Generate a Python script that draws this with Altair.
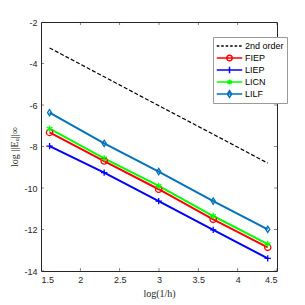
import altair as alt
import pandas as pd

log_inv_h = [1.609, 2.303, 2.996, 3.689, 4.382]
series_names = ["2nd order", "FIEP", "LIEP", "LICN", "LILF"]
order2 = [-3.25, -4.64, -6.03, -7.41, -8.80]
fiep = [-7.32, -8.70, -10.06, -11.51, -12.86]
liep = [-7.98, -9.26, -10.63, -12.02, -13.39]
licn = [-7.14, -8.57, -9.90, -11.35, -12.70]
lilf = [-6.37, -7.85, -9.21, -10.63, -11.99]
colors = ["#000000", "#ff0000", "#0000ff", "#00ff00", "#0072bd"]
x_ticks = [1.5, 2, 2.5, 3, 3.5, 4, 4.5]
y_ticks = [-14, -12, -10, -8, -6, -4, -2]

rows = []
for name, vals in zip(series_names, [order2, fiep, liep, licn, lilf]):
    for xv, yv in zip(log_inv_h, vals):
        rows.append({"x": xv, "y": yv, "series": name})
df = pd.DataFrame(rows)

tick_rows = []
for t in x_ticks:
    tick_rows.append({"x": t, "y": -14, "o": "v"})
    tick_rows.append({"x": t, "y": -2, "o": "v"})
for t in y_ticks:
    tick_rows.append({"x": 1.5, "y": t, "o": "h"})
    tick_rows.append({"x": 4.5, "y": t, "o": "h"})
ticks_df = pd.DataFrame(tick_rows)

xs = alt.Scale(domain=[1.5, 4.5], nice=False, zero=False)
ys = alt.Scale(domain=[-14, -2], nice=False, zero=False)
cs = alt.Scale(domain=series_names, range=colors)

axis_common = dict(ticks=False, grid=False, domain=False, labelFont="Liberation Sans",
                   labelFontSize=9, labelColor="#262626", titleFont="Liberation Serif",
                   titleFontSize=10, titleFontWeight="normal", titleColor="#262626",
                   labelExpr="'' + datum.value", labelPadding=4)
xenc = alt.X("x:Q", scale=xs, axis=alt.Axis(values=x_ticks, title="log(1/h)", titlePadding=4, **axis_common))
yenc = alt.Y("y:Q", scale=ys, axis=alt.Axis(values=y_ticks, title="log ||Eᵤ||∞", titlePadding=4, **axis_common))
cenc_none = alt.Color("series:N", scale=cs, legend=None)

base = alt.Chart(df)

dashed = base.transform_filter(alt.datum.series == "2nd order").mark_line(
    strokeWidth=1.2, strokeDash=[4, 2]).encode(x=xenc, y=yenc, color=cenc_none)
lines = base.transform_filter(alt.datum.series != "2nd order").mark_line(
    strokeWidth=2).encode(x=xenc, y=yenc, color=cenc_none)

marker_shapes = {
    "FIEP": "circle",
    "LIEP": "M-1,0H1M0,-1V1",
    "LICN": "M0,-1V1M-0.87,-0.5L0.87,0.5M-0.87,0.5L0.87,-0.5",
    "LILF": "M0,-1L0.65,0L0,1L-0.65,0Z",
}
point_layers = []
for name, shp in marker_shapes.items():
    point_layers.append(
        base.transform_filter(alt.datum.series == name).mark_point(
            shape=shp, filled=False, size=40, strokeWidth=1.3, opacity=1
        ).encode(x=xenc, y=yenc, color=cenc_none)
    )

legend_paths = [
    "M-1,0H-0.8M-0.65,0H-0.45M-0.3,0H-0.1M0.05,0H0.25M0.4,0H0.6M0.75,0H0.95",
    "M-1,0H1M-0.22,0A0.22,0.22 0 1 1 0.22,0A0.22,0.22 0 1 1 -0.22,0",
    "M-1,0H1M0,-0.25V0.25",
    "M-1,0H1M0,-0.2V0.2M-0.17,-0.1L0.17,0.1M-0.17,0.1L0.17,-0.1",
    "M-1,0H1M0,-0.26L0.17,0L0,0.26L-0.17,0Z",
]
leg = dict(title=None, orient="none", legendX=172, legendY=15, symbolSize=650,
           symbolOpacity=1, symbolStrokeWidth=1.5, labelFont="Liberation Sans",
           labelFontSize=9, labelColor="#000000", strokeColor="#999999",
           fillColor="#ffffff", padding=3, clipHeight=12, labelOffset=2, rowPadding=0)
legend_layer = base.mark_point(opacity=0, filled=False).encode(
    x=xenc, y=yenc,
    color=alt.Color("series:N", scale=cs, legend=alt.Legend(**leg)),
    shape=alt.Shape("series:N", scale=alt.Scale(domain=series_names, range=legend_paths),
                    legend=alt.Legend(**leg)),
)

tick_v = alt.Chart(ticks_df).transform_filter(alt.datum.o == "v").mark_tick(
    clip=True, size=6, thickness=0.8, color="#262626", orient="vertical").encode(x=xenc, y=yenc)
tick_h = alt.Chart(ticks_df).transform_filter(alt.datum.o == "h").mark_tick(
    clip=True, size=6, thickness=0.8, color="#262626", orient="horizontal").encode(x=xenc, y=yenc)

chart = alt.layer(dashed, lines, *point_layers, tick_v, tick_h, legend_layer).resolve_scale(
    color="independent", shape="independent"
).resolve_legend(color="independent", shape="independent").properties(
    width=236, height=249,
    autosize=alt.AutoSizeParams(type="none"),
    padding={"left": 33, "top": 14, "right": 16, "bottom": 31},
    background="white",
).configure_view(stroke="#262626", strokeWidth=1)

chart.save("out.html", embed_options={"renderer": "svg", "actions": False})
